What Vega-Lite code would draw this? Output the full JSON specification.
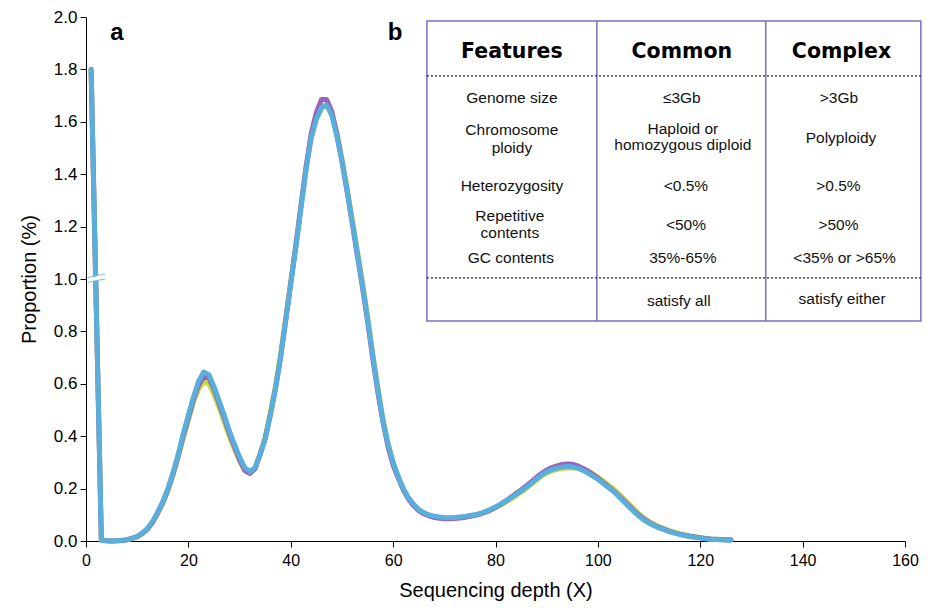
{
  "$schema": "https://vega.github.io/schema/vega-lite/v6.json",
  "width": 819,
  "height": 524,
  "autosize": "none",
  "padding": {"left": 86, "top": 17, "right": 30, "bottom": 67},
  "background": "white",
  "config": {
    "view": {"stroke": null},
    "axis": {"grid": false, "domainColor": "black", "tickColor": "black", "labelColor": "black", "titleColor": "black", "labelFont": "Liberation Sans", "titleFont": "Liberation Sans", "titleFontWeight": "normal"}
  },
  "datasets": {
    "curves": [
      {"x":1,"blue":1.8,"purple":1.8,"green":1.8},
      {"x":3,"blue":0.003,"purple":0.003,"green":0.003},
      {"x":4,"blue":0.001,"purple":0.001,"green":0.001},
      {"x":5,"blue":0,"purple":0,"green":0},
      {"x":6,"blue":0.001,"purple":0.001,"green":0.001},
      {"x":7,"blue":0.002,"purple":0.002,"green":0.002},
      {"x":8,"blue":0.005,"purple":0.005,"green":0.004},
      {"x":9,"blue":0.01,"purple":0.01,"green":0.009},
      {"x":10,"blue":0.018,"purple":0.017,"green":0.016},
      {"x":11,"blue":0.03,"purple":0.029,"green":0.027},
      {"x":12,"blue":0.048,"purple":0.046,"green":0.044},
      {"x":13,"blue":0.075,"purple":0.072,"green":0.07},
      {"x":14,"blue":0.11,"purple":0.107,"green":0.104},
      {"x":15,"blue":0.15,"purple":0.147,"green":0.143},
      {"x":16,"blue":0.2,"purple":0.196,"green":0.19},
      {"x":17,"blue":0.26,"purple":0.255,"green":0.25},
      {"x":18,"blue":0.33,"purple":0.325,"green":0.318},
      {"x":19,"blue":0.41,"purple":0.4,"green":0.392},
      {"x":20,"blue":0.48,"purple":0.47,"green":0.46},
      {"x":21,"blue":0.55,"purple":0.54,"green":0.53},
      {"x":22,"blue":0.61,"purple":0.595,"green":0.58},
      {"x":23,"blue":0.645,"purple":0.628,"green":0.608},
      {"x":24,"blue":0.635,"purple":0.622,"green":0.6},
      {"x":25,"blue":0.59,"purple":0.58,"green":0.56},
      {"x":26,"blue":0.535,"purple":0.525,"green":0.51},
      {"x":27,"blue":0.48,"purple":0.47,"green":0.455},
      {"x":28,"blue":0.42,"purple":0.41,"green":0.4},
      {"x":29,"blue":0.37,"purple":0.36,"green":0.35},
      {"x":30,"blue":0.32,"purple":0.31,"green":0.305},
      {"x":31,"blue":0.28,"purple":0.27,"green":0.268},
      {"x":32,"blue":0.265,"purple":0.258,"green":0.258},
      {"x":33,"blue":0.28,"purple":0.275,"green":0.275},
      {"x":34,"blue":0.33,"purple":0.33,"green":0.33},
      {"x":35,"blue":0.39,"purple":0.39,"green":0.395},
      {"x":36,"blue":0.48,"purple":0.48,"green":0.49},
      {"x":37,"blue":0.58,"purple":0.58,"green":0.59},
      {"x":38,"blue":0.7,"purple":0.7,"green":0.71},
      {"x":39,"blue":0.84,"purple":0.84,"green":0.85},
      {"x":40,"blue":0.98,"purple":0.985,"green":0.99},
      {"x":41,"blue":1.12,"purple":1.13,"green":1.13},
      {"x":42,"blue":1.27,"purple":1.28,"green":1.275},
      {"x":43,"blue":1.42,"purple":1.43,"green":1.42},
      {"x":44,"blue":1.54,"purple":1.555,"green":1.54},
      {"x":45,"blue":1.61,"purple":1.635,"green":1.61},
      {"x":46,"blue":1.655,"purple":1.685,"green":1.65},
      {"x":47,"blue":1.665,"purple":1.685,"green":1.665},
      {"x":48,"blue":1.625,"purple":1.64,"green":1.635},
      {"x":49,"blue":1.545,"purple":1.555,"green":1.56},
      {"x":50,"blue":1.45,"purple":1.45,"green":1.46},
      {"x":51,"blue":1.34,"purple":1.335,"green":1.35},
      {"x":52,"blue":1.22,"purple":1.215,"green":1.23},
      {"x":53,"blue":1.1,"purple":1.09,"green":1.11},
      {"x":54,"blue":0.98,"purple":0.97,"green":0.99},
      {"x":55,"blue":0.85,"purple":0.84,"green":0.86},
      {"x":56,"blue":0.71,"purple":0.7,"green":0.72},
      {"x":57,"blue":0.58,"purple":0.57,"green":0.59},
      {"x":58,"blue":0.46,"purple":0.455,"green":0.47},
      {"x":59,"blue":0.37,"purple":0.36,"green":0.375},
      {"x":60,"blue":0.3,"purple":0.29,"green":0.3},
      {"x":61,"blue":0.245,"purple":0.24,"green":0.245},
      {"x":62,"blue":0.2,"purple":0.195,"green":0.2},
      {"x":63,"blue":0.165,"purple":0.16,"green":0.163},
      {"x":64,"blue":0.14,"purple":0.135,"green":0.137},
      {"x":65,"blue":0.12,"purple":0.116,"green":0.118},
      {"x":66,"blue":0.108,"purple":0.104,"green":0.106},
      {"x":67,"blue":0.1,"purple":0.096,"green":0.098},
      {"x":68,"blue":0.095,"purple":0.09,"green":0.093},
      {"x":69,"blue":0.092,"purple":0.087,"green":0.09},
      {"x":70,"blue":0.09,"purple":0.085,"green":0.088},
      {"x":71,"blue":0.089,"purple":0.085,"green":0.087},
      {"x":72,"blue":0.09,"purple":0.086,"green":0.088},
      {"x":73,"blue":0.092,"purple":0.088,"green":0.09},
      {"x":74,"blue":0.094,"purple":0.09,"green":0.092},
      {"x":75,"blue":0.097,"purple":0.094,"green":0.095},
      {"x":76,"blue":0.1,"purple":0.098,"green":0.099},
      {"x":77,"blue":0.105,"purple":0.103,"green":0.103},
      {"x":78,"blue":0.112,"purple":0.11,"green":0.11},
      {"x":79,"blue":0.12,"purple":0.118,"green":0.118},
      {"x":80,"blue":0.13,"purple":0.128,"green":0.127},
      {"x":81,"blue":0.14,"purple":0.14,"green":0.137},
      {"x":82,"blue":0.152,"purple":0.153,"green":0.148},
      {"x":83,"blue":0.165,"purple":0.167,"green":0.16},
      {"x":84,"blue":0.178,"purple":0.181,"green":0.173},
      {"x":85,"blue":0.19,"purple":0.195,"green":0.186},
      {"x":86,"blue":0.205,"purple":0.21,"green":0.2},
      {"x":87,"blue":0.22,"purple":0.226,"green":0.216},
      {"x":88,"blue":0.237,"purple":0.243,"green":0.232},
      {"x":89,"blue":0.252,"purple":0.258,"green":0.247},
      {"x":90,"blue":0.264,"purple":0.271,"green":0.259},
      {"x":91,"blue":0.272,"purple":0.28,"green":0.267},
      {"x":92,"blue":0.278,"purple":0.287,"green":0.273},
      {"x":93,"blue":0.282,"purple":0.292,"green":0.277},
      {"x":94,"blue":0.284,"purple":0.294,"green":0.279},
      {"x":95,"blue":0.283,"purple":0.293,"green":0.28},
      {"x":96,"blue":0.278,"purple":0.287,"green":0.279},
      {"x":97,"blue":0.27,"purple":0.278,"green":0.276},
      {"x":98,"blue":0.26,"purple":0.267,"green":0.268},
      {"x":99,"blue":0.248,"purple":0.254,"green":0.257},
      {"x":100,"blue":0.235,"purple":0.24,"green":0.244},
      {"x":101,"blue":0.22,"purple":0.224,"green":0.23},
      {"x":102,"blue":0.205,"purple":0.208,"green":0.215},
      {"x":103,"blue":0.19,"purple":0.192,"green":0.2},
      {"x":104,"blue":0.172,"purple":0.174,"green":0.182},
      {"x":105,"blue":0.152,"purple":0.155,"green":0.163},
      {"x":106,"blue":0.132,"purple":0.136,"green":0.143},
      {"x":107,"blue":0.113,"purple":0.117,"green":0.123},
      {"x":108,"blue":0.095,"purple":0.099,"green":0.104},
      {"x":109,"blue":0.08,"purple":0.084,"green":0.088},
      {"x":110,"blue":0.068,"purple":0.071,"green":0.075},
      {"x":111,"blue":0.058,"purple":0.06,"green":0.064},
      {"x":112,"blue":0.05,"purple":0.051,"green":0.055},
      {"x":113,"blue":0.043,"purple":0.044,"green":0.047},
      {"x":114,"blue":0.036,"purple":0.037,"green":0.04},
      {"x":115,"blue":0.03,"purple":0.031,"green":0.034},
      {"x":116,"blue":0.025,"purple":0.026,"green":0.028},
      {"x":117,"blue":0.021,"purple":0.022,"green":0.023},
      {"x":118,"blue":0.017,"purple":0.018,"green":0.019},
      {"x":119,"blue":0.014,"purple":0.015,"green":0.016},
      {"x":120,"blue":0.011,"purple":0.012,"green":0.013},
      {"x":121,"blue":0.009,"purple":0.01,"green":0.01},
      {"x":122,"blue":0.007,"purple":0.008,"green":0.008},
      {"x":123,"blue":0.006,"purple":0.007,"green":0.007},
      {"x":124,"blue":0.005,"purple":0.006,"green":0.006},
      {"x":125,"blue":0.004,"purple":0.005,"green":0.005},
      {"x":126,"blue":0.003,"purple":0.005,"green":0.004}
    ],
    "frame": [
      {"x1":66.6,"x2":163.1,"y1":0.84,"y2":1.985}
    ],
    "vlines": [
      {"x1":99.8,"y1":0.84,"y2":1.985},
      {"x1":132.8,"y1":0.84,"y2":1.985}
    ],
    "hlines": [
      {"x1":66.6,"x2":163.1,"y1":1.775},
      {"x1":66.6,"x2":163.1,"y1":1.004}
    ],
    "headers": [
      {"tx":83.2,"ty":1.866,"label":"Features"},
      {"tx":116.4,"ty":1.866,"label":"Common"},
      {"tx":147.6,"ty":1.866,"label":"Complex"}
    ],
    "cells": [
      {"tx":83.2,"ty":1.691,"label":"Genome size"},
      {"tx":116.4,"ty":1.691,"label":"≤3Gb"},
      {"tx":147.1,"ty":1.691,"label":">3Gb"},
      {"tx":83.2,"ty":1.567,"label":"Chromosome"},
      {"tx":83.2,"ty":1.5,"label":"ploidy"},
      {"tx":116.6,"ty":1.571,"label":"Haploid or"},
      {"tx":116.6,"ty":1.513,"label":"homozygous diploid"},
      {"tx":147.5,"ty":1.538,"label":"Polyploidy"},
      {"tx":83.2,"ty":1.355,"label":"Heterozygosity"},
      {"tx":117.2,"ty":1.355,"label":"<0.5%"},
      {"tx":147.0,"ty":1.355,"label":">0.5%"},
      {"tx":82.8,"ty":1.242,"label":"Repetitive"},
      {"tx":82.8,"ty":1.177,"label":"contents"},
      {"tx":117.2,"ty":1.206,"label":"<50%"},
      {"tx":147.0,"ty":1.206,"label":">50%"},
      {"tx":83.0,"ty":1.08,"label":"GC contents"},
      {"tx":116.6,"ty":1.08,"label":"35%-65%"},
      {"tx":148.2,"ty":1.08,"label":"<35% or >65%"},
      {"tx":115.8,"ty":0.915,"label":"satisfy all"},
      {"tx":147.7,"ty":0.925,"label":"satisfy either"}
    ],
    "panels": [
      {"tx":6.05,"ty":1.939,"label":"a"},
      {"tx":60.4,"ty":1.939,"label":"b"}
    ],
    "breakmark": [
      {"x1":0.3,"x2":3.8,"y1":0.996,"y2":1.01}
    ]
  },
  "layer": [
    {
      "data": {"name": "curves"},
      "mark": {"type": "line", "color": "#C6DE3C", "strokeWidth": 5, "strokeCap": "round", "strokeJoin": "round"},
      "encoding": {
        "x": {"field": "x", "type": "quantitative", "scale": {"domain": [0, 160], "nice": false},
          "axis": {"values": [0,20,40,60,80,100,120,140,160], "title": "Sequencing depth (X)", "labelFontSize": 16, "titleFontSize": 20, "tickSize": 6, "labelPadding": 5, "titlePadding": 12, "labelFlush": false}},
        "y": {"field": "green", "type": "quantitative", "scale": {"domain": [0, 2], "nice": false},
          "axis": {"values": [0,0.2,0.4,0.6,0.8,1.0,1.2,1.4,1.6,1.8,2.0], "format": ".1f", "title": "Proportion (%)", "labelFontSize": 17, "titleFontSize": 20, "tickSize": 6, "labelPadding": 3, "titlePadding": 14, "labelFlush": false}}
      }
    },
    {
      "data": {"name": "curves"},
      "mark": {"type": "line", "color": "#9A62BC", "strokeWidth": 5, "strokeCap": "round", "strokeJoin": "round"},
      "encoding": {
        "x": {"field": "x", "type": "quantitative"},
        "y": {"field": "purple", "type": "quantitative"}
      }
    },
    {
      "data": {"name": "curves"},
      "mark": {"type": "line", "color": "#5AAEDB", "strokeWidth": 5, "strokeCap": "round", "strokeJoin": "round"},
      "encoding": {
        "x": {"field": "x", "type": "quantitative"},
        "y": {"field": "blue", "type": "quantitative"}
      }
    },
    {
      "data": {"name": "breakmark"},
      "mark": {"type": "rule", "color": "white", "strokeWidth": 4},
      "encoding": {
        "x": {"field": "x1", "type": "quantitative"},
        "x2": {"field": "x2"},
        "y": {"field": "y1", "type": "quantitative"},
        "y2": {"field": "y2"}
      }
    },
    {
      "data": {"name": "breakmark"},
      "mark": {"type": "rule", "color": "#7FBFE0", "strokeWidth": 1, "yOffset": -2.5, "y2Offset": -2.5},
      "encoding": {
        "x": {"field": "x1", "type": "quantitative"},
        "x2": {"field": "x2"},
        "y": {"field": "y1", "type": "quantitative"},
        "y2": {"field": "y2"}
      }
    },
    {
      "data": {"name": "breakmark"},
      "mark": {"type": "rule", "color": "#7FBFE0", "strokeWidth": 1, "yOffset": 2.5, "y2Offset": 2.5},
      "encoding": {
        "x": {"field": "x1", "type": "quantitative"},
        "x2": {"field": "x2"},
        "y": {"field": "y1", "type": "quantitative"},
        "y2": {"field": "y2"}
      }
    },
    {
      "data": {"name": "frame"},
      "mark": {"type": "rect", "fill": "white", "stroke": "#7C6CBE", "strokeWidth": 1.5},
      "encoding": {
        "x": {"field": "x1", "type": "quantitative"},
        "x2": {"field": "x2"},
        "y": {"field": "y1", "type": "quantitative"},
        "y2": {"field": "y2"}
      }
    },
    {
      "data": {"name": "vlines"},
      "mark": {"type": "rule", "color": "#7C6CBE", "strokeWidth": 1.5},
      "encoding": {
        "x": {"field": "x1", "type": "quantitative"},
        "y": {"field": "y1", "type": "quantitative"},
        "y2": {"field": "y2"}
      }
    },
    {
      "data": {"name": "hlines"},
      "mark": {"type": "rule", "color": "#222222", "strokeWidth": 1.2, "strokeDash": [2, 2]},
      "encoding": {
        "x": {"field": "x1", "type": "quantitative"},
        "x2": {"field": "x2"},
        "y": {"field": "y1", "type": "quantitative"}
      }
    },
    {
      "data": {"name": "headers"},
      "mark": {"type": "text", "font": "DejaVu Sans", "fontWeight": "bold", "fontSize": 20.5, "color": "black", "baseline": "middle", "align": "center"},
      "encoding": {
        "x": {"field": "tx", "type": "quantitative"},
        "y": {"field": "ty", "type": "quantitative"},
        "text": {"field": "label"}
      }
    },
    {
      "data": {"name": "cells"},
      "mark": {"type": "text", "font": "Liberation Sans", "fontSize": 15.5, "color": "#111111", "baseline": "middle", "align": "center"},
      "encoding": {
        "x": {"field": "tx", "type": "quantitative"},
        "y": {"field": "ty", "type": "quantitative"},
        "text": {"field": "label"}
      }
    },
    {
      "data": {"name": "panels"},
      "mark": {"type": "text", "font": "Liberation Sans", "fontWeight": "bold", "fontSize": 24, "color": "black", "baseline": "middle", "align": "center"},
      "encoding": {
        "x": {"field": "tx", "type": "quantitative"},
        "y": {"field": "ty", "type": "quantitative"},
        "text": {"field": "label"}
      }
    }
  ]
}
